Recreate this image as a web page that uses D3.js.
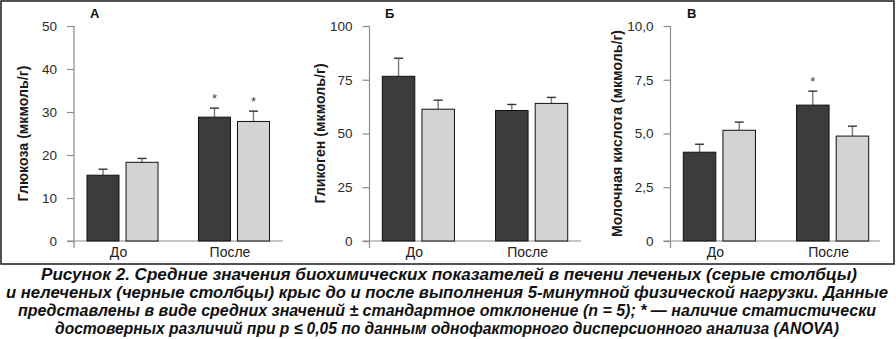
<!DOCTYPE html>
<html>
<head>
<meta charset="utf-8">
<script src="https://cdn.jsdelivr.net/npm/d3@7/dist/d3.min.js"></script>
<style>
  html, body { margin: 0; padding: 0; background: #fff; }
  svg { display: block; font-family: "Liberation Sans", Arial, sans-serif; }
</style>
</head>
<body>
<svg id="chart" width="896" height="339"></svg>
<script>
// Groups and series
const categories = ["До", "После"];
const seriesNames = ["нелеченые", "леченые"];

// Panel А — glucose, мкмоль/г
const glucoseUntreated = [15.3, 28.8];
const glucoseUntreatedSD = [1.4, 2.1];
const glucoseTreated = [18.3, 27.8];
const glucoseTreatedSD = [0.9, 2.4];
const glucoseSignificant = [[false, true], [false, true]]; // [series][group]
const glucoseTicks = [0, 10, 20, 30, 40, 50];

// Panel Б — glycogen, мкмоль/г
const glycogenUntreated = [76.6, 60.7];
const glycogenUntreatedSD = [8.4, 2.8];
const glycogenTreated = [61.3, 64.0];
const glycogenTreatedSD = [4.2, 2.8];
const glycogenSignificant = [[false, false], [false, false]];
const glycogenTicks = [0, 25, 50, 75, 100];

// Panel В — lactic acid, мкмоль/г
const lactateUntreated = [4.13, 6.32];
const lactateUntreatedSD = [0.37, 0.65];
const lactateTreated = [5.15, 4.88];
const lactateTreatedSD = [0.38, 0.46];
const lactateSignificant = [[false, true], [false, false]];
const lactateTicks = [0, 2.5, 5, 7.5, 10];

const captionLines = [
  "Рисунок 2. Средние значения биохимических показателей в печени леченых (серые столбцы)",
  "и нелеченых (черные столбцы) крыс до и после выполнения 5-минутной физической нагрузки. Данные",
  "представлены в виде средних значений ± стандартное отклонение (n = 5); * — наличие статистически",
  "достоверных различий при p ≤ 0,05 по данным однофакторного дисперсионного анализа (ANOVA)"
];

const colors = ["#3c3c3c", "#d2d3d5"];

const panels = [
  { letter: "А", title: "Глюкоза (мкмоль/г)", ticks: glucoseTicks, fmt: d => d3.format("d")(d),
    values: [glucoseUntreated, glucoseTreated], sd: [glucoseUntreatedSD, glucoseTreatedSD], sig: glucoseSignificant,
    axisX: 74, x0: 87, x1: 269.5, baseEnd: 283, letterX: 90, titleX: 23, y0: 241, yTop: 26, catDx: -4 },
  { letter: "Б", title: "Гликоген (мкмоль/г)", ticks: glycogenTicks, fmt: d => d3.format("d")(d),
    values: [glycogenUntreated, glycogenTreated], sd: [glycogenUntreatedSD, glycogenTreatedSD], sig: glycogenSignificant,
    axisX: 369.5, x0: 382.3, x1: 567.7, baseEnd: 581, letterX: 385, titleX: 320, y0: 241, yTop: 26, catDx: -4 },
  { letter: "В", title: "Молочная кислота (мкмоль/г)", ticks: lactateTicks,
    fmt: d => d === 0 ? "0" : d.toFixed(1).replace(".", ","),
    values: [lactateUntreated, lactateTreated], sd: [lactateUntreatedSD, lactateTreatedSD], sig: lactateSignificant,
    axisX: 670.5, x0: 683.3, x1: 868.7, baseEnd: 880, letterX: 687, titleX: 617, y0: 241, yTop: 26, catDx: -4 }
];

const svg = d3.select("#chart");

// Outer frame
svg.append("rect")
  .attr("x", 1).attr("y", 1).attr("width", 893).attr("height", 263)
  .attr("fill", "none").attr("stroke", "#1a1a1a").attr("stroke-width", 1.5);

panels.forEach(p => {
  const g = svg.append("g");
  const domainMax = p.ticks[p.ticks.length - 1];
  const y = d3.scaleLinear().domain([0, domainMax]).range([p.y0, p.yTop]);
  const x = d3.scaleBand().domain(categories).range([p.x0, p.x1]).paddingInner(0.363);
  const xs = d3.scaleBand().domain(seriesNames).range([0, x.bandwidth()]).paddingInner(0.18);

  // Y axis
  const yAxis = d3.axisLeft(y).tickValues(p.ticks).tickFormat(p.fmt).tickSize(7).tickPadding(10);
  const ya = g.append("g").attr("transform", `translate(${p.axisX},0)`).call(yAxis);
  ya.select(".domain").remove();
  ya.selectAll(".tick line").attr("stroke", "#8c8c8c").attr("stroke-width", 1.2);
  ya.selectAll(".tick text")
    .attr("fill", "#2a2a2a").attr("font-size", 13.5)
    .attr("font-family", "Liberation Sans, Arial, sans-serif");
  g.append("line")
    .attr("x1", p.axisX).attr("x2", p.axisX)
    .attr("y1", y(domainMax)).attr("y2", p.y0 + 7)
    .attr("stroke", "#8c8c8c").attr("stroke-width", 1.2);

  // Baseline
  g.append("line")
    .attr("x1", p.axisX - 7).attr("x2", p.baseEnd)
    .attr("y1", y(0)).attr("y2", y(0))
    .attr("stroke", "#8c8c8c").attr("stroke-width", 1.2);

  // Bars, error bars and significance marks
  seriesNames.forEach((s, si) => {
    categories.forEach((c, ci) => {
      const v = p.values[si][ci];
      const e = p.sd[si][ci];
      const bx = x(c) + xs(s);
      const bw = xs.bandwidth();
      const cx = bx + bw / 2;
      g.append("line")
        .attr("x1", cx).attr("x2", cx)
        .attr("y1", y(v)).attr("y2", y(v + e))
        .attr("stroke", "#7a7a7a").attr("stroke-width", 1.4);
      g.append("line")
        .attr("x1", cx - 4.5).attr("x2", cx + 4.5)
        .attr("y1", y(v + e)).attr("y2", y(v + e))
        .attr("stroke", "#333").attr("stroke-width", 1.4);
      g.append("rect")
        .attr("x", bx).attr("y", y(v))
        .attr("width", bw).attr("height", y(0) - y(v))
        .attr("fill", colors[si]).attr("stroke", "#111").attr("stroke-width", 1);
      if (p.sig[si][ci]) {
        g.append("text")
          .attr("x", cx).attr("y", y(v + e) - 5)
          .attr("text-anchor", "middle")
          .attr("font-size", 13).attr("fill", "#444")
          .text("*");
      }
    });
  });

  // Category labels
  categories.forEach(c => {
    g.append("text")
      .attr("x", x(c) + x.bandwidth() / 2 + p.catDx).attr("y", 257)
      .attr("text-anchor", "middle")
      .attr("font-size", 14).attr("fill", "#222")
      .text(c);
  });

  // Panel letter
  g.append("text")
    .attr("x", p.letterX).attr("y", 18)
    .attr("font-size", 13).attr("font-weight", "bold").attr("fill", "#111")
    .text(p.letter);

  // Y axis title
  g.append("text")
    .attr("transform", `translate(${p.titleX + 5},${(p.y0 + p.yTop) / 2}) rotate(-90)`)
    .attr("text-anchor", "middle")
    .attr("font-size", 14.2).attr("font-weight", "bold").attr("fill", "#1a1a1a")
    .text(p.title);
});

// Caption, centred under the panels
const capSpans = [[41, 857], [6, 888], [18, 876], [55, 839]];
captionLines.forEach((line, i) => {
  svg.append("text")
    .attr("x", capSpans[i][0]).attr("y", 280 + i * 18)
    .attr("textLength", capSpans[i][1] - capSpans[i][0])
    .attr("lengthAdjust", "spacingAndGlyphs")
    .attr("font-family", "'Liberation Sans', Arial, sans-serif")
    .attr("font-style", "italic").attr("font-weight", "bold")
    .attr("font-size", 16).attr("fill", "#111")
    .text(line);
});
</script>
</body>
</html>
